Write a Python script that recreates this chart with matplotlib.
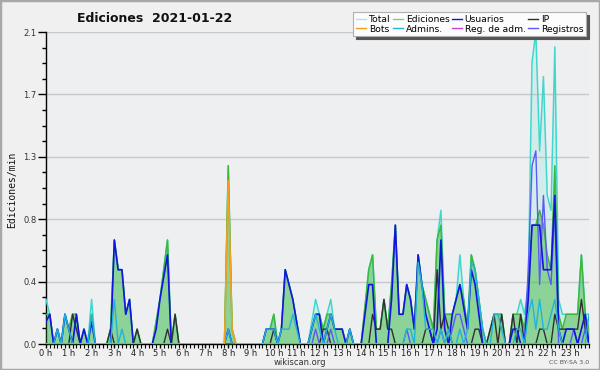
import matplotlib
matplotlib.use("Agg")
import matplotlib.pyplot as plt
from matplotlib.patches import Rectangle
from matplotlib.lines import Line2D
import numpy as np

hour_labels = [f"{h} h" for h in range(24)]

total = [
    0.3, 0.2, 0, 0.1, 0, 0.2,
    0.1, 0.2, 0.2, 0, 0.1, 0,
    0.3, 0, 0, 0, 0, 0.1,
    0.7, 0.5, 0.5, 0.2, 0.3, 0,
    0.1, 0, 0, 0, 0, 0.15,
    0.3, 0.5, 0.7, 0, 0.2, 0,
    0, 0, 0, 0, 0, 0,
    0, 0, 0, 0, 0, 0,
    1.2, 0.1, 0, 0, 0, 0,
    0, 0, 0, 0, 0.1, 0.1,
    0.2, 0, 0.1, 0.5, 0.4, 0.3,
    0.15, 0, 0, 0, 0.15, 0.3,
    0.2, 0.1, 0.2, 0.3, 0.1, 0.1,
    0.1, 0, 0.1, 0, 0, 0,
    0.25, 0.5, 0.6, 0.1, 0.1, 0.3,
    0.1, 0.4, 0.8, 0.2, 0.2, 0.4,
    0.3, 0.1, 0.6, 0.4, 0.3, 0.2,
    0.1, 0.7, 0.9, 0.2, 0.2, 0.2,
    0.3, 0.6, 0.3, 0.1, 0.6, 0.5,
    0.3, 0.1, 0, 0.1, 0.2, 0.2,
    0.2, 0, 0, 0.2, 0.2, 0.3,
    0.2, 0.4, 1.9, 2.1, 1.3, 1.8,
    1.0, 0.9, 2.0, 0.3, 0.2, 0.2,
    0.2, 0.2, 0.2, 0.6, 0.2, 0.2,
]

ediciones = [
    0.2, 0.2, 0, 0.1, 0, 0.2,
    0.1, 0.2, 0.2, 0, 0.1, 0,
    0.2, 0, 0, 0, 0, 0.1,
    0.7, 0.5, 0.5, 0.2, 0.3, 0,
    0.1, 0, 0, 0, 0, 0.15,
    0.3, 0.5, 0.7, 0, 0.2, 0,
    0, 0, 0, 0, 0, 0,
    0, 0, 0, 0, 0, 0,
    1.2, 0.1, 0, 0, 0, 0,
    0, 0, 0, 0, 0.1, 0.1,
    0.2, 0, 0.1, 0.5, 0.4, 0.3,
    0.15, 0, 0, 0, 0.1, 0.2,
    0.2, 0.1, 0.2, 0.2, 0.1, 0.1,
    0.1, 0, 0.1, 0, 0, 0,
    0.25, 0.5, 0.6, 0.1, 0.1, 0.3,
    0.1, 0.4, 0.8, 0.2, 0.2, 0.4,
    0.3, 0.1, 0.6, 0.4, 0.3, 0.2,
    0.1, 0.7, 0.8, 0.2, 0.2, 0.2,
    0.3, 0.4, 0.3, 0.1, 0.6, 0.5,
    0.3, 0.1, 0, 0.1, 0.2, 0.2,
    0.2, 0, 0, 0.2, 0.2, 0.2,
    0.1, 0.4, 0.8, 0.8, 0.9, 0.8,
    0.6, 0.5, 1.2, 0.2, 0.1, 0.2,
    0.2, 0.2, 0.2, 0.6, 0.2, 0.1,
]

usuarios = [
    0.15, 0.2, 0, 0.1, 0, 0.2,
    0.1, 0, 0.2, 0, 0.1, 0,
    0.15, 0, 0, 0, 0, 0,
    0.7, 0.5, 0.5, 0.2, 0.3, 0,
    0, 0, 0, 0, 0, 0.1,
    0.3, 0.45, 0.6, 0, 0, 0,
    0, 0, 0, 0, 0, 0,
    0, 0, 0, 0, 0, 0,
    0.1, 0, 0, 0, 0, 0,
    0, 0, 0, 0, 0.1, 0.1,
    0.1, 0, 0.1, 0.5, 0.4, 0.3,
    0.15, 0, 0, 0, 0.1, 0.2,
    0.2, 0, 0.1, 0.2, 0.1, 0.1,
    0.1, 0, 0.1, 0, 0, 0,
    0.2, 0.4, 0.4, 0, 0, 0,
    0, 0.3, 0.8, 0.2, 0.2, 0.4,
    0.3, 0.1, 0.6, 0.4, 0.2, 0.1,
    0, 0.1, 0.7, 0.1, 0, 0.2,
    0.3, 0.4, 0.25, 0.1, 0.5, 0.4,
    0.2, 0, 0, 0, 0, 0,
    0, 0, 0, 0.1, 0.1, 0,
    0, 0.3, 0.8, 0.8, 0.8, 0.5,
    0.5, 0.5, 1.0, 0.1, 0, 0.1,
    0.1, 0.1, 0, 0.1, 0.2, 0,
]

ip = [
    0, 0, 0, 0, 0, 0,
    0, 0.2, 0.1, 0, 0, 0,
    0, 0, 0, 0, 0, 0.1,
    0, 0, 0, 0, 0, 0,
    0.1, 0, 0, 0, 0, 0,
    0, 0, 0.1, 0, 0.2, 0,
    0, 0, 0, 0, 0, 0,
    0, 0, 0, 0, 0, 0,
    0, 0, 0, 0, 0, 0,
    0, 0, 0, 0, 0, 0,
    0.1, 0, 0, 0, 0, 0,
    0, 0, 0, 0, 0, 0,
    0, 0.1, 0.1, 0, 0, 0,
    0, 0, 0, 0, 0, 0,
    0, 0, 0.2, 0.1, 0.1, 0.3,
    0.1, 0.1, 0, 0, 0, 0,
    0, 0, 0, 0, 0.1, 0.1,
    0, 0.5, 0.1, 0.2, 0.1, 0,
    0, 0, 0, 0, 0, 0.1,
    0.1, 0, 0, 0.1, 0.2, 0,
    0.2, 0, 0, 0.2, 0, 0.2,
    0, 0, 0, 0, 0.1, 0.1,
    0, 0, 0.2, 0.1, 0.1, 0.1,
    0.1, 0.1, 0.1, 0.3, 0.1, 0,
]

bots = [0] * 48 + [1.1, 0.1] + [0] * 94

admins = [
    0, 0, 0, 0.1, 0, 0.2,
    0.1, 0, 0, 0, 0, 0,
    0.2, 0, 0, 0, 0, 0,
    0.3, 0, 0.1, 0, 0, 0,
    0, 0, 0, 0, 0, 0,
    0, 0, 0, 0, 0, 0,
    0, 0, 0, 0, 0, 0,
    0, 0, 0, 0, 0, 0,
    0.1, 0, 0, 0, 0, 0,
    0, 0, 0, 0, 0.1, 0.1,
    0.1, 0, 0.1, 0.1, 0.1, 0.2,
    0.1, 0, 0, 0, 0.1, 0.2,
    0.1, 0, 0.1, 0.2, 0.1, 0,
    0, 0, 0.1, 0, 0, 0,
    0, 0, 0, 0, 0, 0,
    0, 0, 0, 0, 0, 0.1,
    0.1, 0, 0.55, 0.4, 0.1, 0.1,
    0.1, 0, 0.1, 0, 0.1, 0,
    0, 0.1, 0, 0.1, 0.55, 0.5,
    0.3, 0.1, 0, 0, 0.2, 0.2,
    0.1, 0, 0, 0, 0.1, 0.1,
    0, 0.2, 0.3, 0.1, 0.3, 0.1,
    0.1, 0.2, 0.3, 0.1, 0, 0,
    0, 0, 0, 0, 0, 0.2,
]

reg_adm = [0] * 144

registros = [
    0, 0, 0, 0, 0, 0,
    0, 0, 0, 0, 0, 0,
    0, 0, 0, 0, 0, 0,
    0, 0, 0, 0, 0, 0,
    0, 0, 0, 0, 0, 0,
    0, 0, 0, 0, 0, 0,
    0, 0, 0, 0, 0, 0,
    0, 0, 0, 0, 0, 0,
    0, 0, 0, 0, 0, 0,
    0, 0, 0, 0, 0, 0,
    0, 0, 0, 0, 0, 0,
    0, 0, 0, 0, 0, 0.1,
    0, 0, 0, 0.1, 0, 0,
    0, 0, 0, 0, 0, 0,
    0, 0, 0, 0, 0, 0,
    0, 0, 0, 0, 0, 0.1,
    0, 0, 0, 0, 0, 0,
    0, 0, 0.1, 0, 0, 0.1,
    0.2, 0.2, 0.1, 0, 0, 0,
    0, 0, 0, 0, 0, 0,
    0, 0, 0, 0, 0, 0,
    0, 0.5, 1.2, 1.3, 0.4, 1.0,
    0.5, 0.4, 0.9, 0, 0, 0,
    0, 0.1, 0, 0, 0.1, 0,
]

x = np.arange(len(total))

W, H = 600, 370
fig = plt.figure(figsize=(6, 3.7), dpi=100, facecolor='#f0f0f0')
fig.patches.append(Rectangle((0, 0), 1, 1, transform=fig.transFigure, fill=False,
                             edgecolor='#a8a8a8', linewidth=2.5))
ax = fig.add_axes([46 / W, 26 / H, 543 / W, 312 / H])
ax.set_facecolor('#eeeff1')
ax.set_xlim(0, 143)
ax.set_ylim(0, 2.1)

yt = np.linspace(0, 2.1, 6)
ax.set_yticks(yt)
ax.set_yticklabels([f"{v:.1f}" for v in yt])
ax.set_yticks(np.linspace(0, 2.1, 21), minor=True)
ax.set_xticks(np.arange(0, 144, 6))
ax.set_xticklabels(hour_labels)
ax.set_xticks(np.arange(0, 144, 1), minor=True)
ax.grid(axis='y', which='major', color='#c8c8c8', linewidth=1)
ax.set_axisbelow(True)
for s in ['top', 'right']:
    ax.spines[s].set_visible(False)
for s in ['left', 'bottom']:
    ax.spines[s].set_color('black')
    ax.spines[s].set_linewidth(1)
ax.tick_params(axis='y', which='major', length=6, width=1, labelsize=6, pad=1, colors='black', labelcolor='#333333')
ax.tick_params(axis='y', which='minor', length=3, width=1)
ax.tick_params(axis='x', which='major', length=3, width=1, labelsize=6, pad=0.5, labelcolor='#222222')
ax.tick_params(axis='x', which='minor', length=3, width=0.8)

c_total = '#40d8cc'
c_edic = '#3cb83c'
c_usu = '#1414e0'
c_ip = '#303030'
c_bots = '#f5a020'
c_adm = '#20b4dc'
c_regadm = '#d040e0'
c_reg = '#5a5af8'

ax.fill_between(x, total, color=c_total, alpha=0.15, linewidth=0, zorder=2)
ax.fill_between(x, ediciones, color=c_edic, alpha=0.47, linewidth=0, zorder=3)
ax.plot(x, total, color=c_total, lw=1.1, zorder=4)
ax.plot(x, ediciones, color=c_edic, lw=1.1, zorder=5)
ax.plot(x, ip, color=c_ip, lw=1.0, zorder=6)
ax.plot(x, registros, color=c_reg, lw=1.0, zorder=7)
ax.plot(x, usuarios, color=c_usu, lw=1.2, zorder=8)
ax.plot(x, admins, color=c_adm, lw=1.0, zorder=9)
ax.plot(x, reg_adm, color=c_regadm, lw=1.0, zorder=9, alpha=0)
ax.plot(x, bots, color=c_bots, lw=1.2, zorder=10)

handles = [
    Line2D([], [], color='#a8e8e0', lw=1), Line2D([], [], color=c_bots, lw=1),
    Line2D([], [], color='#80cc80', lw=1), Line2D([], [], color=c_adm, lw=1),
    Line2D([], [], color=c_usu, lw=1), Line2D([], [], color=c_regadm, lw=1),
    Line2D([], [], color=c_ip, lw=1), Line2D([], [], color=c_reg, lw=1),
]
labels = ['Total', 'Bots', 'Ediciones', 'Admins.', 'Usuarios', 'Reg. de adm.', 'IP', 'Registros']
leg = fig.legend(handles, labels, ncol=4, loc='upper right',
                 bbox_to_anchor=(586 / W, 1 - 12 / H), fontsize=6.6,
                 frameon=True, fancybox=False, shadow={'color': '#555555', 'alpha': 1},
                 handlelength=1.1, handletextpad=0.3, columnspacing=0.25,
                 labelspacing=0.1, borderpad=0.3, borderaxespad=0)
leg.get_frame().set_facecolor('#fcfcfc')
leg.get_frame().set_edgecolor('#b0b0b0')
leg.get_frame().set_linewidth(0.8)

fig.text(155 / W, 1 - 19 / H, "Ediciones  2021-01-22", ha='center', va='center',
         fontsize=9, fontweight='bold', color='#111111')
fig.text(12 / W, 1 - 190 / H, "Ediciones/min", rotation=90, ha='center', va='center',
         fontsize=7, family='DejaVu Sans Mono', color='#111111')
fig.text(300 / W, 1 - 362.5 / H, "wikiscan.org", ha='center', va='center',
         fontsize=6, color='#333333')
fig.text(589 / W, 1 - 362.5 / H, "CC BY-SA 3.0", ha='right', va='center',
         fontsize=4.5, color='#555555')

fig.savefig('out.png', dpi=100, facecolor=fig.get_facecolor())
